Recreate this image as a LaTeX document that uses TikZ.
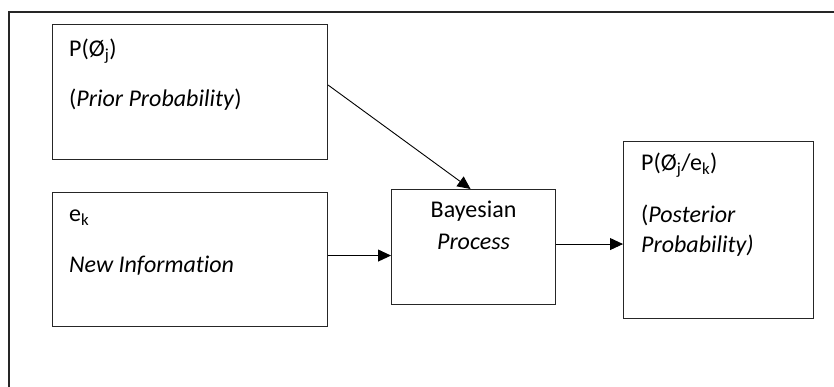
\documentclass[tikz,border=0pt]{standalone}
\usepackage{fontspec}
\setmainfont{Carlito}[Ligatures=NoCommon]
\usepackage{tikz}
\usetikzlibrary{arrows.meta, positioning}
% lines of a box text, hung from the first baseline
\newcommand{\boxlines}[2][l]{\begin{tabular}[t]{@{}#1@{}}#2\end{tabular}}

\begin{document}
\begin{tikzpicture}[
        x=1pt, y=-1pt,
        font=\fontsize{24}{30}\selectfont,
        box/.style={rectangle, draw=black!85, line width=1.1pt, inner sep=0pt,
                    anchor=north west},
        txt/.style={inner sep=0pt, anchor=base west},
        arr/.style={-{Triangle[length=13pt, width=12pt]}, line width=0.9pt},
      ]
      \useasboundingbox (0,0) rectangle (834,387);
      % outer frame, open to the right and bottom
      \draw[draw=black!85, line width=1.1pt] (834,12) -- (9,12) -- (9,387);

      \node[box, minimum width=275pt, minimum height=135pt] (prior) at (52,24) {};
      \node[box, minimum width=275pt, minimum height=134pt] (newinfo) at (52,192) {};
      \node[box, minimum width=164pt, minimum height=115pt] (bayes) at (391,189) {};
      \node[box, minimum width=190pt, minimum height=177pt] (posterior) at (623,141) {};

      \node[txt] (priortxt) at ([shift={(17,33)}]prior.north west)
        {\boxlines{P(Ø\textsubscript{j})\\[20pt](\textit{Prior Probability})}};
      \node[txt] (newinfotxt) at ([shift={(17,30)}]newinfo.north west)
        {\boxlines{e\textsubscript{k}\\[21pt]\textit{New Information}}};
      \node[txt, anchor=base] (bayestxt) at ([shift={(0,29)}]bayes.north)
        {\boxlines[c]{Bayesian\\[2pt]\textit{Process}}};
      \node[txt] (posteriortxt) at ([shift={(18,30)}]posterior.north west)
        {\boxlines{P(Ø\textsubscript{j}/e\textsubscript{k})\\[22pt](\textit{Posterior}\\\textit{Probability)}}};

      \draw[arr] ([yshift=7pt]prior.east) -- ([xshift=-3pt]bayes.north);
      \draw[arr] ([yshift=4pt]newinfo.east) -- ([yshift=4pt]newinfo.east -| bayes.west);
      \draw[arr] ([yshift=3pt]bayes.east) -- ([yshift=3pt]bayes.east -| posterior.west);
    \end{tikzpicture}
\end{document}
